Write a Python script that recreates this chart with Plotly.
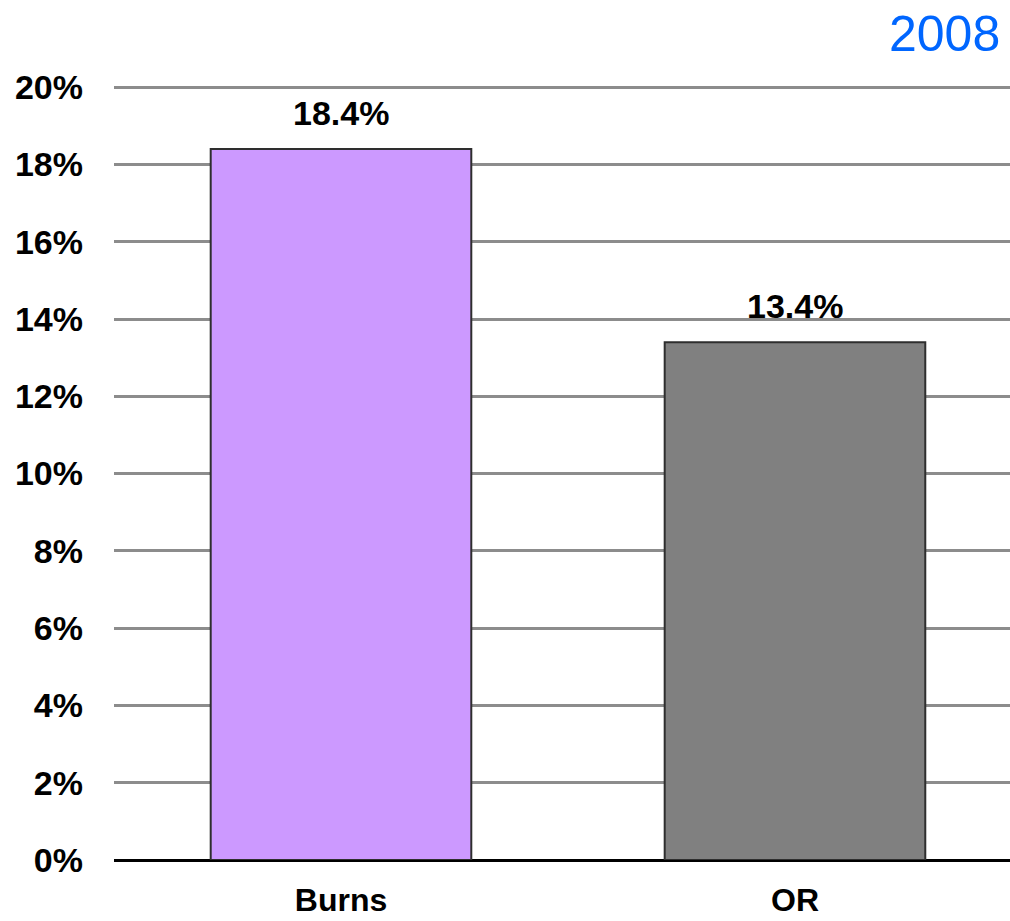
import plotly.graph_objects as go

# data
categories = ["Burns", "OR"]
values = [18.4, 13.4]
labels = ["18.4%", "13.4%"]
bar_colors = ["#CC99FF", "#808080"]
y_ticks = [0, 2, 4, 6, 8, 10, 12, 14, 16, 18, 20]
y_tick_text = [f"{v}%" for v in y_ticks]

font_family = "Arial, Liberation Sans, sans-serif"

fig = go.Figure()
fig.add_trace(go.Bar(
    x=categories,
    y=values,
    width=0.574,
    marker=dict(color=bar_colors, line=dict(color="#2E2E2E", width=2)),
    hoverinfo="skip",
))

# value labels above bars
for c, v, t in zip(categories, values, labels):
    fig.add_annotation(x=c, y=v, text=f"<b>{t}</b>", showarrow=False,
                       yanchor="bottom", yshift=15,
                       font=dict(family=font_family, size=34, color="#000000"))

# year label
fig.add_annotation(text="2008", x=1, xref="paper", xanchor="right", xshift=-8,
                   y=1, yref="paper", yanchor="top", yshift=82, showarrow=False,
                   font=dict(family=font_family, size=50, color="#0066FF"))

fig.update_layout(
    width=1010,
    height=921,
    margin=dict(l=114, r=0, t=86, b=61),
    plot_bgcolor="white",
    paper_bgcolor="white",
    showlegend=False,
    font=dict(family=font_family, color="#000000"),
)

fig.update_xaxes(
    type="category",
    range=[-0.5, 1.4736],
    showgrid=False,
    showline=False,
    ticks="",
    tickfont=dict(family=font_family, size=32),
    tickvals=categories,
    ticktext=[f"<b>{c}</b>" for c in categories],
    ticklabelstandoff=18,
    automargin=False,
)
fig.update_yaxes(
    range=[0, 20.03],
    tickvals=y_ticks,
    ticktext=[f"<b>{t}</b>" for t in y_tick_text],
    tickfont=dict(family=font_family, size=34),
    showgrid=True,
    gridcolor="#8C8C8C",
    gridwidth=3,
    zeroline=True,
    zerolinecolor="#000000",
    zerolinewidth=3,
    showline=False,
    ticks="",
    ticklabelstandoff=30,
    automargin=False,
)

# drop the default body margin so the figure fills the window exactly
fig.write_html("out.html",
               config={"displayModeBar": False},
               post_script="document.body.style.margin='0';"
                           "document.body.style.overflow='hidden';")
